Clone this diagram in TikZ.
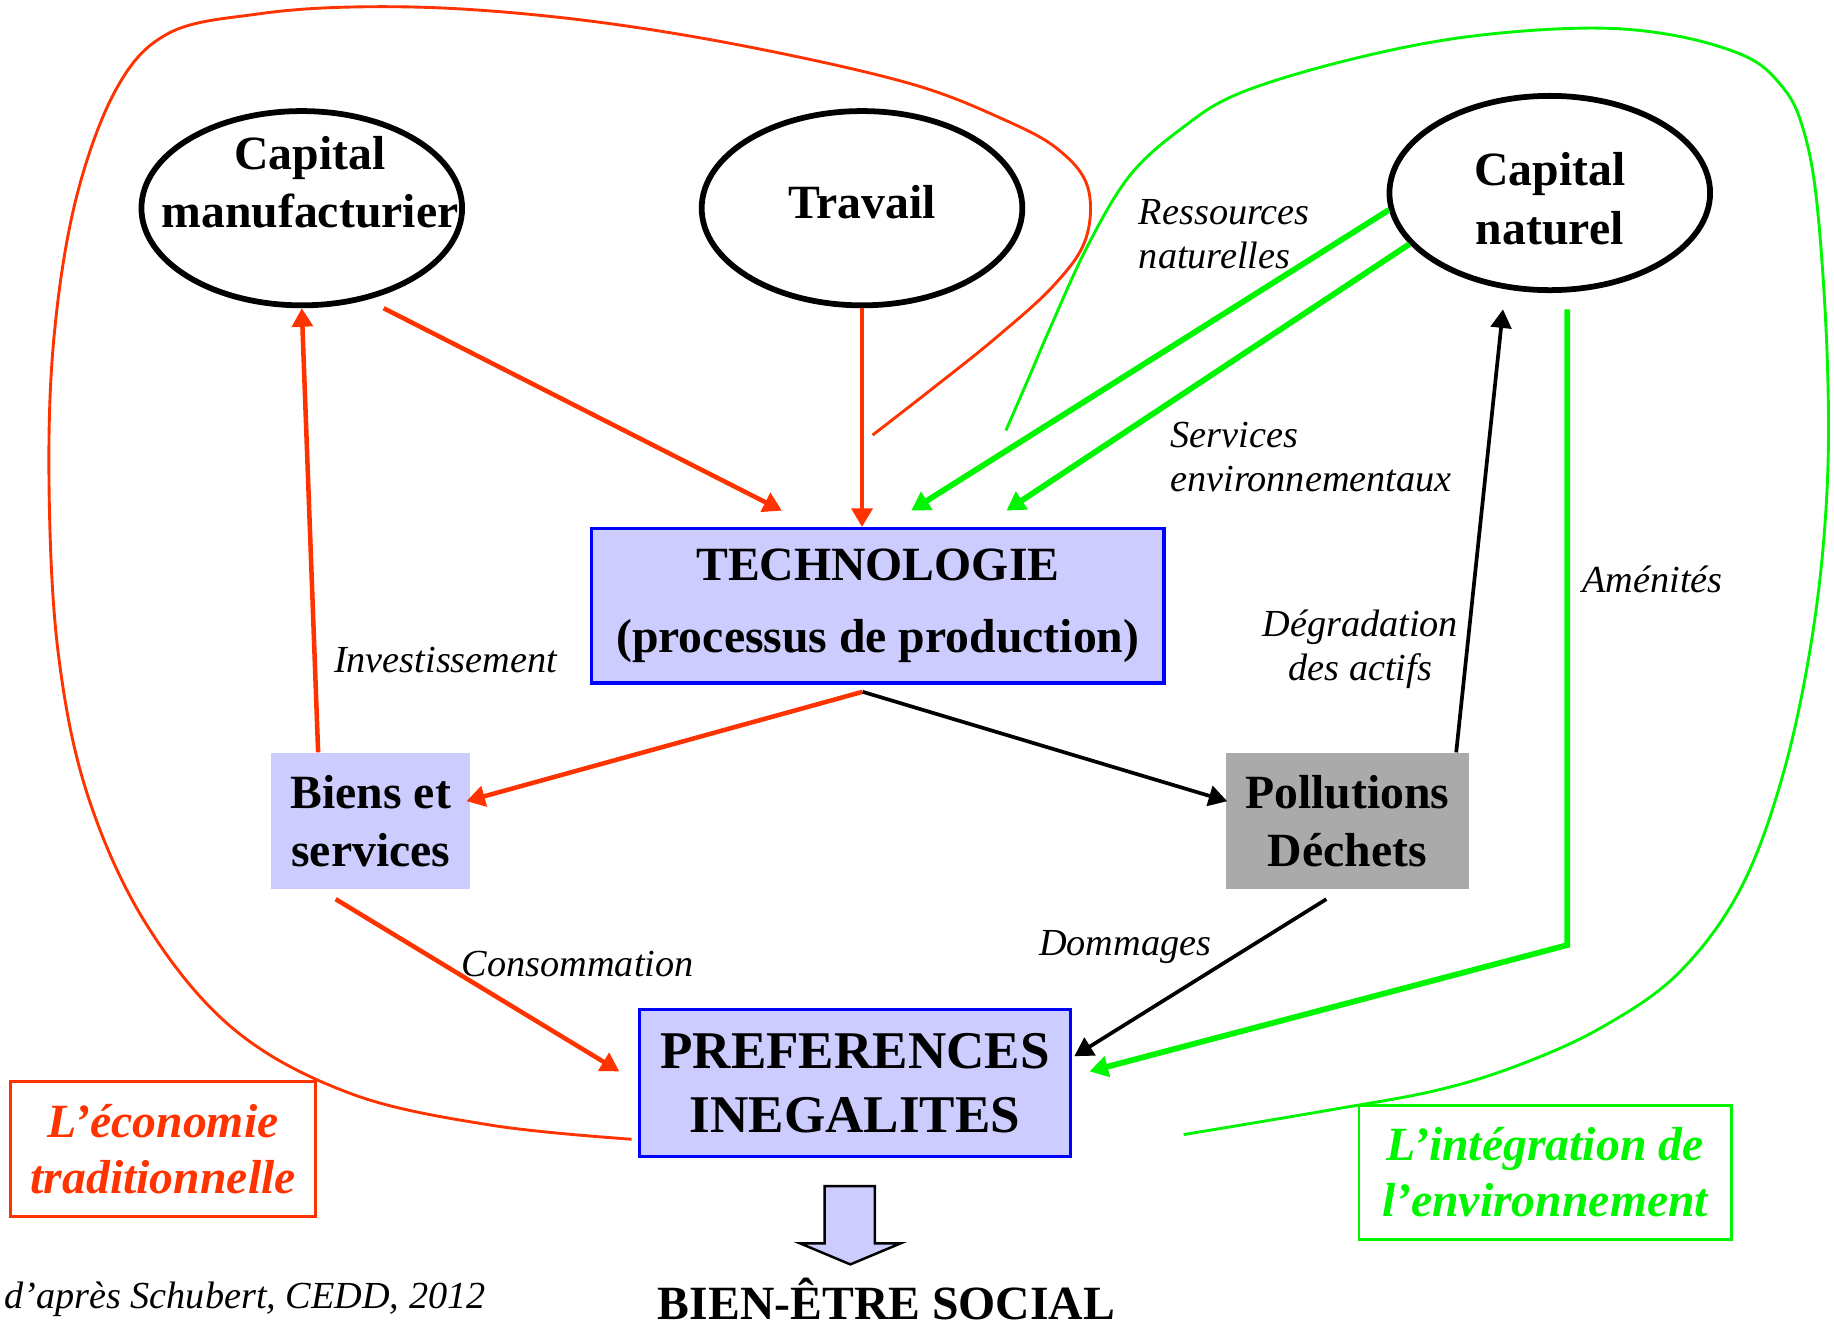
\documentclass[tikz,border=0pt]{standalone}
\usepackage{fontspec}
\setmainfont{Liberation Serif}
\usetikzlibrary{positioning,calc,shapes.geometric,arrows.meta}
\definecolor{lavande}{RGB}{204,204,255}
\definecolor{rouge}{RGB}{255,51,0}
\definecolor{vert}{RGB}{0,245,0}
\definecolor{grisp}{RGB}{170,170,170}
\definecolor{bleu}{RGB}{0,0,255}

\tikzset{
  oval/.style={ellipse,draw,line width=1.4pt,minimum width=2.74cm,minimum height=1.66cm,inner sep=0pt},
  boite/.style={rectangle,fill=lavande,inner sep=0pt,align=center},
  gros/.style={font=\fontsize{11.6}{14.2}\selectfont\bfseries,align=center,inner sep=0pt},
  etiq/.style={font=\fontsize{9.3}{10.7}\selectfont\itshape,inner sep=0pt},
  legende/.style={line width=0.7pt,minimum height=1.15cm,align=center,font=\fontsize{11.6}{13.6}\selectfont\bfseries\itshape},
  flr/.style={rouge,line width=1.1pt,->},
  fln/.style={black,line width=0.9pt,->},
  flv/.style={vert,line width=1.4pt,->},
  boucle/.style={line width=0.7pt}
}

\begin{document}
\begin{tikzpicture}[x=0.01cm,y=-0.01cm,>={Triangle[length=4.5pt,width=5pt]}]
		\useasboundingbox (0,0) rectangle (1568,1135);
		
		% facteurs
		\node[oval] (capm) at (258,178) {};
		\node[gros] (capmt) at (265,156) {Capital\\manufacturier};
		\node[oval] (trav) at (737,178) {};
		\node[gros] (travt) at (737,173) {Travail};
		\node[oval] (capn) at (1325,165) {};
		\node[gros] (capnt) at (1325,170) {Capital\\naturel};
		
		% boites
		\node[boite,draw=bleu,line width=0.8pt,minimum width=4.89cm,minimum height=1.32cm,font=\fontsize{11.6}{17.6}\selectfont\bfseries] (techno) at (750.5,518) {TECHNOLOGIE\\(processus de production)};
		\node[boite,gros,minimum width=1.7cm,minimum height=1.16cm] (biens) at (317,702) {Biens et\\services};
		\node[boite,gros,fill=grisp,minimum width=2.08cm,minimum height=1.16cm] (pollu) at (1152,702) {Pollutions\\Déchets};
		\node[boite,draw=bleu,line width=0.8pt,minimum width=3.68cm,minimum height=1.26cm,font=\fontsize{12.9}{15.6}\selectfont\bfseries] (pref) at (731,926) {PREFERENCES\\INEGALITES};
		\node[gros] (bienetre) at (758,1111) {BIEN-ÊTRE SOCIAL};
		
		\draw[fill=lavande,line width=0.6pt] (705,1014) -- (748,1014) -- (748,1063) -- (770,1063) -- (727,1081) -- (684,1063) -- (705,1063) -- cycle;
		
		% legendes
		\node[legende,draw=rouge,text=rouge,minimum width=2.61cm] (econ) at (139.5,982.5) {L’économie\\traditionnelle};
		\node[legende,draw=vert,text=vert,minimum width=3.18cm] (integ) at (1321,1002.5) {L’intégration de\\l’environnement};
		\node[etiq,anchor=west] (source) at (3,1111) {d’après Schubert, CEDD, 2012};
		
		% etiquettes
		\node[etiq] (invest) at (381,564) {Investissement};
		\node[etiq,anchor=west,align=left] (ressnat) at (973,200) {Ressources\\naturelles};
		\node[etiq,anchor=west,align=left] (servenv) at (1000,391) {Services\\environnementaux};
		\node[etiq,align=center] (degrad) at (1163,555) {Dégradation\\des actifs};
		\node[etiq] (amenit) at (1413,495) {Aménités};
		\node[etiq] (conso) at (494,824) {Consommation};
		\node[etiq] (dommag) at (962,810) {Dommages};
		
		% fleches
		\draw[flr] ($(capm.south)+(70,0)$) -- ($(techno.north)+(-82,-14)$);
		\draw[flr] (trav.south) -- (trav.south |- techno.north);
		\draw[flr] ($(techno.south)+(-13,6)$) -- ($(biens.east)+(-4,-17)$);
		\draw[flr] ($(biens.north)+(-45,0)$) -- (capm.south);
		\draw[flr] ($(biens.south)+(-30,8)$) -- ($(pref.west)+(-16,-10)$);
		\draw[fln] ($(techno.south)+(-13,6)$) -- ($(pollu.west)+(2,-17)$);
		\draw[fln] ($(pollu.north)+(93,0)$) -- ($(capn.south)+(-40,14)$);
		\draw[fln] ($(pollu.south)+(-18,8)$) -- ($(pref.east)+(2,-23)$);
		\draw[flv] (capn.186) -- ($(techno.north)+(28.5,-14)$);
		\draw[flv] (capn.200) -- ($(techno.north)+(110,-14)$);
		\coordinate (coude) at (1340,808);
		\draw[flv] ($(capn.south)+(15,14)$) -- (coude) -- ($(pref.east)+(15,-10)$);
		
		% boucles
		\draw[rouge,boucle] plot[smooth,tension=0.6] coordinates {(540,974) (420,962) (300,935) (200,880) (125,790) (75,680) (50,560) (42,420) (46,290) (65,170) (100,75) (145,28) (220,12) (300,6) (400,8) (520,20) (650,42) (780,72) (860,103) (905,128) (930,160) (928,205) (900,245) (850,290) (800,330) (746,372)};
		\draw[vert,boucle] plot[smooth,tension=0.6] coordinates {(860,368) (880,322) (898,280) (930,210) (966,150) (1010,110) (1059,80) (1150,52) (1250,32) (1355,24) (1430,30) (1492,48) (1522,72) (1540,105) (1553,170) (1562,300) (1562,420) (1550,540) (1525,660) (1488,760) (1435,832) (1370,878) (1300,910) (1229,932) (1137,949) (1012,970)};
		
		\end{tikzpicture}
\end{document}
